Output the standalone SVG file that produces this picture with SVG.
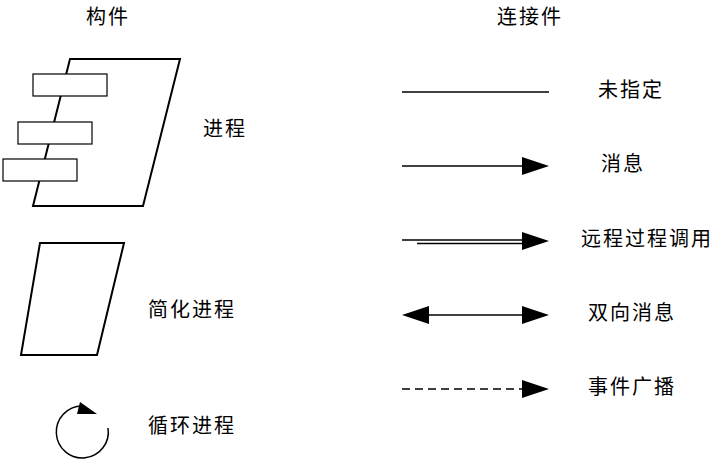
<svg xmlns="http://www.w3.org/2000/svg" width="725" height="462" viewBox="0 0 725 462">
<style>
text{font-family:"Noto Sans CJK SC",sans-serif;font-size:20px;letter-spacing:2px;fill:#000;dominant-baseline:middle}
.s{fill:#fff;stroke:#000;stroke-width:2}
.l{stroke:#000;stroke-width:1.5;fill:none}
.h{fill:#000}
</style>
<rect width="725" height="462" fill="#fff"/>
<text x="86" y="19">构件</text>
<text x="497" y="19">连接件</text>
<g id="process">
<polygon class="s" points="70,59 180,59 143,206 33,206"/>
<rect x="33" y="74" width="74" height="22" fill="#fff" stroke="#000" stroke-width="1.2"/>
<rect x="18" y="122" width="74" height="22" fill="#fff" stroke="#000" stroke-width="1.2"/>
<rect x="3" y="159" width="74" height="22" fill="#fff" stroke="#000" stroke-width="1.2"/>
<text x="203" y="131">进程</text>
</g>
<g id="simple">
<polygon class="s" points="40,243 124,243 97,355 21,355"/>
<text x="148" y="312">简化进程</text>
</g>
<g id="loop">
<path class="l" d="M108,428 A26,26 0 1 1 82,406" stroke-width="1"/>
<polygon class="h" points="80,402 97,414 77,414"/>
<text x="148" y="428">循环进程</text>
</g>
<g id="connectors">
<line class="l" x1="402" y1="92" x2="549" y2="92"/>
<line class="l" x1="402" y1="166" x2="525" y2="166"/>
<polygon class="h" points="522,157 549,166 522,175"/>
<line class="l" x1="402" y1="240" x2="525" y2="240"/>
<line class="l" x1="417" y1="243.5" x2="525" y2="243.5" stroke-width="2"/>
<polygon class="h" points="522,232 549,241 522,250"/>
<line class="l" x1="425" y1="315" x2="525" y2="315"/>
<polygon class="h" points="522,306 549,315 522,324"/>
<polygon class="h" points="429,306 402,315 429,324"/>
<line class="l" x1="402" y1="389" x2="525" y2="389" stroke-width="2" stroke-dasharray="8,5"/>
<polygon class="h" points="522,380 549,389 522,398"/>
</g>
<text x="598" y="92">未指定</text>
<text x="601" y="166">消息</text>
<text x="581" y="241">远程过程调用</text>
<text x="588" y="315">双向消息</text>
<text x="588" y="389">事件广播</text>
</svg>
